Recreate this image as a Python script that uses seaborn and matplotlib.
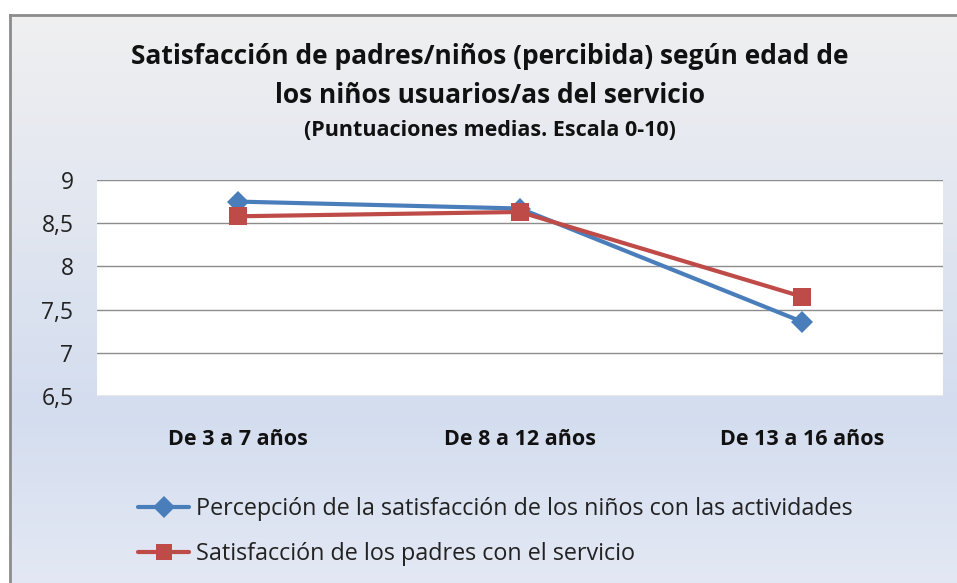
import numpy as np
import pandas as pd
import matplotlib
matplotlib.use('Agg')
import matplotlib.pyplot as plt
import seaborn as sns

# datos
edades = ['De 3 a 7 años', 'De 8 a 12 años', 'De 13 a 16 años']
serie_ninos = [8.75, 8.67, 7.36]
serie_padres = [8.58, 8.63, 7.65]
nombre_ninos = 'Percepción de la satisfacción de los niños con las actividades'
nombre_padres = 'Satisfacción de los padres con el servicio'
ticks_y = [6.5, 7, 7.5, 8, 8.5, 9]
etiquetas_y = ['6,5', '7', '7,5', '8', '8,5', '9']

df = pd.DataFrame({
    'edad': edades * 2,
    'valor': serie_ninos + serie_padres,
    'serie': [nombre_ninos] * 3 + [nombre_padres] * 3,
})

sns.set_style('white')
plt.rcParams['font.family'] = ['Open Sans', 'DejaVu Sans']

W, H = 957, 583
fig = plt.figure(figsize=(W / 100, H / 100), dpi=100)
fig.patch.set_facecolor('white')

# fondo degradado del area del grafico
bg = fig.add_axes([10 / W, 0, 1 - 10 / W, 1 - 15 / H])
grad = np.linspace(0, 1, 256)
c_top = np.array([0.94, 0.94, 0.945])
c_mid = np.array([0.83, 0.867, 0.937])
c_bot = np.array([0.89, 0.91, 0.955])
colors = []
for g in grad:
    if g < 0.7:
        t = g / 0.7
        colors.append(c_top * (1 - t) + c_mid * t)
    else:
        t = (g - 0.7) / 0.3
        colors.append(c_mid * (1 - t) + c_bot * t)
img = np.array(colors)[:, None, :]
bg.imshow(img, aspect='auto', extent=[0, 1, 0, 1], origin='upper')
bg.set_xlim(0, 1)
bg.set_ylim(0, 1)
bg.set_xticks([])
bg.set_yticks([])
for s in ['right', 'bottom']:
    bg.spines[s].set_visible(False)
for s in ['left', 'top']:
    bg.spines[s].set_color('#8c8c8c')
    bg.spines[s].set_linewidth(2)

ax = fig.add_axes([97 / W, 1 - 396 / H, (943 - 97) / W, (396 - 180) / H])
ax.set_facecolor('white')

sns.lineplot(data=df, x='edad', y='valor', hue='serie', style='serie',
             palette=['#4A7EBB', '#BE4B48'], markers=['D', 's'], dashes=False,
             sort=False, linewidth=3, markersize=13, markeredgewidth=0, ax=ax)
# rombo un poco mas pequeño
ax.lines[0].set_markersize(11)

ax.set_xlim(-0.5, 2.5)
ax.set_ylim(6.5, 9)
ax.set_yticks(ticks_y)
ax.set_yticklabels(etiquetas_y, fontsize=16.5, color='#222222')
ax.set_xticks(range(len(edades)))
ax.set_xticklabels(edades, fontsize=15.5, fontweight='bold', color='#111111')
ax.tick_params(axis='y', length=0, pad=17)
ax.tick_params(axis='x', length=0, pad=24)
ax.grid(axis='y', color='#8c8c8c', linewidth=1)
ax.set_axisbelow(True)
for s in ax.spines.values():
    s.set_visible(False)
ax.set_xlabel('')
ax.set_ylabel('')

handles, labels = ax.get_legend_handles_labels()
ax.get_legend().remove()
for h in handles:
    h.set_markersize(11)
fig.legend(handles, labels, loc='upper left', bbox_to_anchor=(138 / W, 1 - 497 / H),
           frameon=False, fontsize=16.8, handlelength=2.2, labelspacing=0.9,
           handletextpad=0.3, borderpad=0, borderaxespad=0, labelcolor='#222222')

fig.text(490 / W, 1 - 57 / H, 'Satisfacción de padres/niños (percibida) según edad de',
         ha='center', va='center', fontsize=19, fontweight='bold', color='#111111')
fig.text(490 / W, 1 - 95 / H, 'los niños usuarios/as del servicio',
         ha='center', va='center', fontsize=19, fontweight='bold', color='#111111')
fig.text(490 / W, 1 - 131 / H, '(Puntuaciones medias. Escala 0-10)',
         ha='center', va='center', fontsize=15.5, fontweight='bold', color='#111111')

fig.savefig('out.png', dpi=100)
